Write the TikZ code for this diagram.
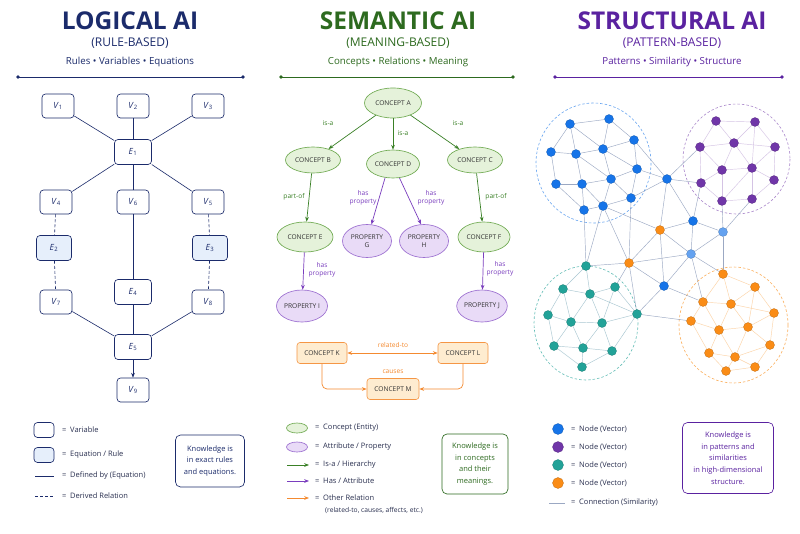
\documentclass[tikz,border=0pt]{standalone}
\usepackage{fontspec}
\setmainfont{Open Sans}
\usetikzlibrary{arrows.meta,positioning,shapes.geometric,calc,backgrounds}
\definecolor{navy}{RGB}{27,43,107}
\definecolor{leaf}{RGB}{45,106,31}
\definecolor{grape}{RGB}{90,34,160}
\definecolor{ink}{RGB}{42,48,80}
\definecolor{ruleblue}{RGB}{230,239,251}
\definecolor{sage}{RGB}{112,170,82}
\definecolor{sagefill}{RGB}{229,242,218}
\definecolor{lilac}{RGB}{155,110,208}
\definecolor{lilacfill}{RGB}{233,219,247}
\definecolor{isagreen}{RGB}{58,128,38}
\definecolor{hasviolet}{RGB}{122,62,190}
\definecolor{tangerine}{RGB}{244,138,48}
\definecolor{tangerinefill}{RGB}{254,236,208}
\definecolor{vblue}{RGB}{22,116,232}
\definecolor{vsky}{RGB}{100,162,240}
\definecolor{vpurple}{RGB}{112,54,168}
\definecolor{vteal}{RGB}{34,162,152}
\definecolor{vorange}{RGB}{250,140,22}
\definecolor{wire}{RGB}{122,140,176}
\tikzset{
  >={Stealth[length=1.7mm,width=1.3mm]},
  headline/.style={font=\bfseries\fontsize{24.5}{26}\selectfont,text=#1,inner sep=0pt},
  subline/.style={font=\fontsize{12}{13}\selectfont,text=#1,inner sep=0pt},
  tagline/.style={font=\fontsize{9.7}{11}\selectfont,text=#1,inner sep=0pt},
  rulerline/.style={draw=#1,line width=0.9pt},
  varbox/.style={draw=navy,fill=white,rounded corners=3.5pt,line width=0.65pt,
    minimum width=32pt,minimum height=24pt,inner sep=1pt,
    font=\fontsize{8.5}{9}\selectfont,text=navy},
  eqnbox/.style={varbox,minimum width=37pt,minimum height=25pt},
  link/.style={draw=navy,line width=0.6pt},
  derived/.style={link,dash pattern=on 3pt off 2pt},
  conceptnode/.style={ellipse,draw=sage,fill=sagefill,line width=0.65pt,inner sep=0pt,
    minimum width=55pt,minimum height=26pt,align=center,
    font=\fontsize{6.6}{7.8}\selectfont,text=black!80},
  propnode/.style={conceptnode,draw=lilac,fill=lilacfill},
  isa/.style={->,draw=isagreen,line width=0.7pt},
  has/.style={->,draw=hasviolet,line width=0.7pt},
  other/.style={->,draw=tangerine,line width=0.7pt,rounded corners=5pt},
  relbox/.style={draw=tangerine!90,fill=tangerinefill,rounded corners=3pt,line width=0.6pt,
    minimum width=50pt,minimum height=21pt,inner sep=1pt,
    font=\fontsize{6.6}{7}\selectfont,text=black!80},
  elabel/.style={font=\fontsize{6.6}{7.5}\selectfont,text=#1,align=center,inner sep=0pt},
  vecnode/.style={circle,fill=#1,draw=#1!75!black,line width=0.25pt,minimum size=9pt,inner sep=0pt},
  sim/.style={draw=#1,line width=0.45pt,opacity=0.75},
  sim/.default=wire,
  cluster/.style={draw=#1,line width=0.6pt,dash pattern=on 2.5pt off 2pt},
  legendtext/.style={font=\fontsize{7.5}{8.5}\selectfont,text=ink,anchor=west,inner sep=0pt},
  notebox/.style={draw=#1,rounded corners=5pt,line width=0.65pt,align=center,
    font=\fontsize{7.5}{11.7}\selectfont,text=#1,inner sep=2pt},
}

\begin{document}
\begin{tikzpicture}[x=1pt,y=-1pt]
  \useasboundingbox (0,0) rectangle (800,533);
  \begin{scope}[on background layer]
    \fill[white] (0,0) rectangle (800,533);
  \end{scope}

  % headers
  \foreach \t/\s/\g/\c/\x/\l/\r [count=\i] in {
      LOGICAL AI/RULE-BASED/Rules • Variables • Equations/navy/130/18/243,
      SEMANTIC AI/MEANING-BASED/Concepts • Relations • Meaning/leaf/398/281/513,
      STRUCTURAL AI/PATTERN-BASED/Patterns • Similarity • Structure/grape/672/555/782}{
    \node[headline=\c] (title\i) at (\x,21) {\t};
    \node[subline=\c] (sub\i) at (\x,43) {(\s)};
    \node[tagline=\c] (tag\i) at (\x,61.5) {\g};
    \coordinate (rl\i) at (\l,77);
    \coordinate (rr\i) at (\r,77);
    \draw[rulerline=\c] (rl\i) -- (rr\i);
    \fill[\c] (rl\i) circle (1.8) (rr\i) circle (1.8);
  }

  % logical
  \foreach \n/\x/\y/\k in {V1/58/106/1,V2/133/106/2,V3/208/106/3,V4/56/202/4,V6/133/202/6,
      V5/208/202/5,V7/56/302/7,V8/208/302/8,V9/133/390/9}
    \node[varbox] (\n) at (\x,\y) {\textit{V}\textsubscript{\k}};
  \foreach \n/\x/\y/\k in {E1/133/152/1,E4/133/292/4,E5/133/347/5}
    \node[eqnbox] (\n) at (\x,\y) {\textit{E}\textsubscript{\k}};
  \foreach \n/\x/\y/\k in {E2/54/248/2,E3/210/248/3}
    \node[eqnbox,fill=ruleblue,minimum width=35pt] (\n) at (\x,\y) {\textit{E}\textsubscript{\k}};
  \foreach \a/\b in {V1/E1,V2/E1,V3/E1,E1/V4,E1/V6,E1/V5,V6/E4,V7/E5,E4/E5,V8/E5}
    \draw[link] (\a) -- (\b);
  \foreach \a/\b in {V4/E2,E2/V7,V5/E3,E3/V8}
    \draw[derived] (\a) -- (\b);
  \draw[link,->] (E5) -- (V9);

  \node[varbox,minimum width=20pt,minimum height=15pt] (keyvar) at (44,430) {};
  \node[legendtext] (keyvartxt) at (62,430) {=\enspace Variable};
  \node[varbox,fill=ruleblue,minimum width=20pt,minimum height=15pt] (keyeqn) at (44,455) {};
  \node[legendtext] (keyeqntxt) at (62,455) {=\enspace Equation / Rule};
  \node[legendtext] (keydeftxt) at (62,476) {=\enspace Defined by (Equation)};
  \draw[link] ([xshift=-27pt]keydeftxt.west) -- ([xshift=-8pt]keydeftxt.west);
  \node[legendtext] (keydertxt) at (62,496) {=\enspace Derived Relation};
  \draw[derived] ([xshift=-27pt]keydertxt.west) -- ([xshift=-8pt]keydertxt.west);
  \node[notebox=navy,minimum width=69pt,minimum height=52pt] (notelogic) at (210,461)
    {Knowledge is\\in exact rules\\and equations.};

  % semantic
  \node[conceptnode,minimum width=57pt,minimum height=30pt] (A) at (393,103) {CONCEPT A};
  \node[conceptnode] (B) at (313,160) {CONCEPT B};
  \node[conceptnode,minimum width=53pt,minimum height=28pt] (D) at (393,164) {CONCEPT D};
  \node[conceptnode] (C) at (475,160) {CONCEPT C};
  \node[conceptnode,minimum width=56pt,minimum height=30pt] (E) at (305,237) {CONCEPT E};
  \node[conceptnode,minimum width=52pt,minimum height=30pt] (F) at (484,237) {CONCEPT F};
  \node[propnode,minimum width=49pt,minimum height=33pt] (G) at (367,241) {PROPERTY\\G};
  \node[propnode,minimum width=49pt,minimum height=33pt] (H) at (424,241) {PROPERTY\\H};
  \node[propnode,minimum width=51pt,minimum height=32pt] (I) at (302,306) {PROPERTY I};
  \node[propnode,minimum width=50pt,minimum height=32pt] (J) at (482,306) {PROPERTY J};
  \foreach \a/\b in {A/B,A/D,A/C,B/E,C/F} \draw[isa] (\a) -- (\b);
  \draw[has] (D.240) -- (G.75);
  \draw[has] (D.295) -- (H.100);
  \draw[has] (E) -- (I);
  \draw[has] (F) -- (J);
  \node[elabel=isagreen] (lab1) at (328,123) {is-a};
  \node[elabel=isagreen] (lab2) at (403,133) {is-a};
  \node[elabel=isagreen] (lab3) at (458,123) {is-a};
  \node[elabel=isagreen] (lab4) at (294,197) {part-of};
  \node[elabel=isagreen] (lab5) at (496,197) {part-of};
  \node[elabel=hasviolet] (lab6) at (363,198) {has\\property};
  \node[elabel=hasviolet] (lab7) at (431,198) {has\\property};
  \node[elabel=hasviolet] (lab8) at (322,270) {has\\property};
  \node[elabel=hasviolet] (lab9) at (500,269) {has\\property};

  \node[relbox] (K) at (322,353) {CONCEPT K};
  \node[relbox] (L) at (463,353) {CONCEPT L};
  \node[relbox,minimum width=52pt] (M) at (393,389) {CONCEPT M};
  \draw[other,<->] (K) -- (L);
  \draw[other] (K.south) |- (M.west);
  \draw[other] (L.south) |- (M.east);
  \node[elabel=tangerine] (labrel) at (393,345) {related-to};
  \node[elabel=tangerine] (labcause) at (393,372) {causes};

  \node[legendtext] (keyconc) at (315,428) {=\enspace Concept (Entity)};
  \node[conceptnode,minimum width=21pt,minimum height=10pt] at ([xshift=-18pt]keyconc.west) {};
  \node[legendtext] (keyattr) at (315,447) {=\enspace Attribute / Property};
  \node[propnode,minimum width=21pt,minimum height=10pt] at ([xshift=-18pt]keyattr.west) {};
  \node[legendtext] (keyisa) at (315,465) {=\enspace Is-a / Hierarchy};
  \draw[isa] ([xshift=-28pt]keyisa.west) -- ([xshift=-6pt]keyisa.west);
  \node[legendtext] (keyhas) at (315,481) {=\enspace Has / Attribute};
  \draw[has] ([xshift=-28pt]keyhas.west) -- ([xshift=-6pt]keyhas.west);
  \node[legendtext] (keyoth) at (315,498) {=\enspace Other Relation};
  \draw[other] ([xshift=-28pt]keyoth.west) -- ([xshift=-6pt]keyoth.west);
  \node[legendtext,font=\fontsize{6.7}{8}\selectfont] (keyothx) at (325,510) {(related-to, causes, affects, etc.)};
  \node[notebox=leaf,minimum width=66pt,minimum height=60pt] (notesem) at (475,464)
    {Knowledge is\\in concepts\\and their\\meanings.};

  % structural
  \foreach \n/\x/\y in {b1/570/124,b2/609/119,b3/634/140,b4/551/152,b5/576/154,b6/603/149,
      b7/637/169,b8/556/184,b9/582/184,b10/611/179,b11/631/198,b12/603/206,b13/584/210,
      c1/667/179,c2/693/221,c7/664/286}
    \node[vecnode=vblue] (\n) at (\x,\y) {};
  \foreach \n/\x/\y in {c3/723/232,c5/691/254}
    \node[vecnode=vsky] (\n) at (\x,\y) {};
  \foreach \n/\x/\y in {p1/716/121,p2/755/122,p3/734/143,p4/700/147,p5/775/147,p6/722/170,
      p7/752/168,p8/701/183,p9/774/180,p10/722/201,p11/752/199}
    \node[vecnode=vpurple] (\n) at (\x,\y) {};
  \foreach \n/\x/\y in {t1/586/266,t2/563/289,t3/590/294,t4/615/287,t5/548/315,t6/571/322,
      t7/602/323,t8/637/314,t9/554/346,t10/583/348,t11/612/351,t12/582/367}
    \node[vecnode=vteal] (\n) at (\x,\y) {};
  \foreach \n/\x/\y in {c4/660/230,c6/629/263,o1/723/274,o2/755/287,o3/703/302,o4/731/304,
      o5/774/313,o6/691/321,o7/719/330,o8/748/327,o9/770/345,o10/709/353,o11/735/357,
      o12/755/367,o13/726/371}
    \node[vecnode=vorange] (\n) at (\x,\y) {};

  \begin{scope}[on background layer]
    \draw[cluster=vblue!65] (593.5,163) ellipse [x radius=57.5,y radius=60];
    \draw[cluster=vpurple!60] (736.5,159) ellipse [x radius=53.5,y radius=55];
    \draw[cluster=vteal!70] (586,323) ellipse [x radius=52,y radius=57];
    \draw[cluster=vorange!70] (733.5,325) ellipse [x radius=54.5,y radius=58];
    \foreach \a/\b in {b1/b2,b1/b4,b1/b5,b1/b6,b2/b6,b2/b3,b3/b6,b3/b7,b4/b5,b4/b8,b5/b6,
        b5/b9,b5/b10,b6/b7,b6/b10,b7/b10,b7/b11,b8/b9,b8/b13,b9/b10,b9/b13,b9/b12,b10/b11,
        b10/b12,b11/b12,b12/b13,b3/c1,b7/c1,b11/c1,b12/c4,b11/c6,b12/c6,b13/t1,b12/t1,
        c1/c2,c1/c4,c1/p4,c1/p8,c2/p8,c2/c3,c2/c4,c2/c5,c3/p10,c3/p11,c3/c5,c3/o1,c4/c6,
        c4/c7,c4/c5,c5/c6,c5/c7,c5/o1,c5/o3,c6/c7,c6/t1,c6/t4,c6/t8,c7/t8,c7/o3,t8/o6}
      \draw[sim] (\a) -- (\b);
    \foreach \a/\b in {p1/p2,p1/p3,p1/p4,p2/p3,p2/p5,p2/p7,p3/p4,p3/p5,p3/p6,p3/p7,p4/p6,
        p4/p8,p5/p7,p5/p9,p6/p7,p6/p8,p6/p10,p7/p9,p7/p11,p7/p10,p8/p10,p9/p11,p10/p11}
      \draw[sim=vpurple!40] (\a) -- (\b);
    \foreach \a/\b in {t1/t2,t1/t3,t2/t3,t2/t5,t2/t6,t3/t4,t3/t6,t3/t7,t3/t8,t4/t7,t4/t8,
        t5/t6,t5/t9,t6/t7,t6/t9,t6/t10,t7/t8,t7/t10,t7/t11,t8/t11,t9/t10,t9/t12,t10/t11,
        t10/t12,t11/t12}
      \draw[sim=vteal!35!wire!70] (\a) -- (\b);
    \foreach \a/\b in {o1/o2,o1/o3,o1/o4,o2/o4,o2/o5,o2/o8,o3/o4,o3/o6,o3/o7,o4/o5,o4/o7,
        o4/o8,o5/o8,o5/o9,o6/o7,o6/o10,o7/o8,o7/o10,o7/o11,o8/o9,o8/o11,o9/o11,o9/o12,
        o10/o11,o10/o13,o11/o12,o11/o13,o12/o13}
      \draw[sim=vorange!50] (\a) -- (\b);
  \end{scope}

  \foreach \c/\y [count=\i] in {vblue/429,vpurple/447,vteal/465,vorange/483}{
    \node[legendtext] (keynode\i) at (571,\y) {=\enspace Node (Vector)};
    \node[vecnode=\c,minimum size=11pt] (keydot\i) at ([xshift=-13pt]keynode\i.west) {};
  }
  \node[legendtext] (keysim) at (571,503) {=\enspace Connection (Similarity)};
  \draw[sim] ([xshift=-22pt]keysim.west) -- ([xshift=-6pt]keysim.west);
  \node[notebox=grape,minimum width=91pt,minimum height=71pt] (notestruct) at (728,458)
    {Knowledge is\\in patterns and\\similarities\\in high-dimensional\\structure.};
\end{tikzpicture}
\end{document}
